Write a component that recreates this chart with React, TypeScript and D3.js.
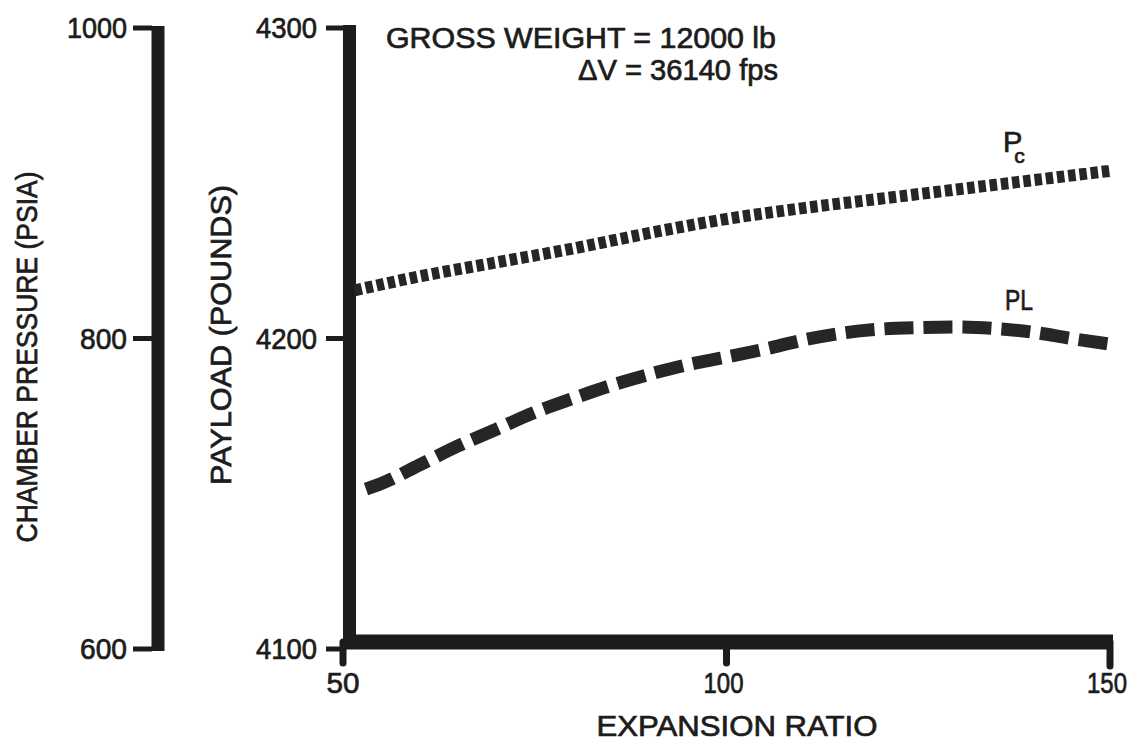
import React from "react";
import * as d3 from "d3";

// Expansion ratio sample points and the two curves read along them
const EXPANSION_PC = [51.5, 60, 70, 80, 90, 100, 110, 120, 130, 140, 150];
const CHAMBER_PRESSURE = [831, 840, 849, 858, 868, 877, 884, 890, 896, 902, 908];

const EXPANSION_PL = [53, 55, 60, 65, 70, 75, 80, 85, 90, 95, 100, 105, 110, 115, 120, 125, 130, 135, 140, 145, 150];
const PAYLOAD = [
  4151.5, 4153.3, 4159.3, 4165.4, 4170.8, 4176.2, 4180.7, 4184.9, 4188.5, 4191.6, 4194,
  4196.6, 4199.5, 4201.7, 4203, 4203.5, 4203.7, 4203.2, 4202, 4200, 4198.2,
];

const X_TICKS = [50, 100, 150];
const PC_TICKS = [600, 800, 1000];
const PL_TICKS = [4100, 4200, 4300];

const TITLE_LINE_1 = "GROSS WEIGHT = 12000 lb";
const TITLE_LINE_2 = "\u0394V = 36140 fps";

const W = 1135;
const H = 742;
const INK = "#1c1c1c";
const FONT = "'Liberation Sans', Arial, sans-serif";

export default function App() {
  const x = d3.scaleLinear().domain([50, 150]).range([343, 1110]);
  const yPl = d3.scaleLinear().domain([4100, 4300]).range([649, 28]);
  const yPc = d3.scaleLinear().domain([600, 1000]).range([649, 28]);

  const pcPoints: [number, number][] = EXPANSION_PC.map((e, i) => [e, CHAMBER_PRESSURE[i]]);
  const plPoints: [number, number][] = EXPANSION_PL.map((e, i) => [e, PAYLOAD[i]]);

  const pcLine = d3
    .line<[number, number]>()
    .x((d) => x(d[0]))
    .y((d) => yPc(d[1]))
    .curve(d3.curveMonotoneX);
  const plLine = d3
    .line<[number, number]>()
    .x((d) => x(d[0]))
    .y((d) => yPl(d[1]))
    .curve(d3.curveMonotoneX);

  const leftBarX = 158;
  const rightBarX = 349.5;
  const xAxisY = 642;

  // slightly heavier lettering than the regular face
  const tickFont = {
    fontFamily: FONT,
    fontSize: 29,
    fill: INK,
    stroke: INK,
    strokeWidth: 0.7,
  } as const;

  return (
    <svg
      width={W}
      height={H}
      viewBox={`0 0 ${W} ${H}`}
      style={{ position: "absolute", left: 0, top: 0, background: "#fff" }}
    >
      {/* chamber pressure axis */}
      <line
        x1={leftBarX}
        x2={leftBarX}
        y1={yPc(1000) - 2}
        y2={yPc(600) + 2}
        stroke={INK}
        strokeWidth={13}
      />
      {PC_TICKS.map((t) => (
        <g key={`pc${t}`}>
          <line x1={133} x2={leftBarX - 6} y1={yPc(t)} y2={yPc(t)} stroke={INK} strokeWidth={5} />
          <text
            x={127}
            y={yPc(t) + 10}
            textAnchor="end"
            textLength={t >= 1000 ? 60 : 47}
            lengthAdjust="spacingAndGlyphs"
            {...tickFont}
          >
            {t}
          </text>
        </g>
      ))}

      {/* payload axis */}
      <line
        x1={rightBarX}
        x2={rightBarX}
        y1={yPl(4300) - 3}
        y2={xAxisY}
        stroke={INK}
        strokeWidth={13}
      />
      {PL_TICKS.map((t) => (
        <g key={`pl${t}`}>
          <line x1={326} x2={rightBarX - 6} y1={yPl(t)} y2={yPl(t)} stroke={INK} strokeWidth={5} />
          <text
            x={317}
            y={yPl(t) + 10}
            textAnchor="end"
            textLength={61}
            lengthAdjust="spacingAndGlyphs"
            {...tickFont}
          >
            {t}
          </text>
        </g>
      ))}

      {/* expansion ratio axis */}
      <line
        x1={x(50)}
        x2={x(150) + 3}
        y1={xAxisY}
        y2={xAxisY}
        stroke={INK}
        strokeWidth={15}
      />
      {X_TICKS.map((t) => (
        <g key={`x${t}`}>
          <line
            x1={x(t)}
            x2={x(t)}
            y1={xAxisY}
            y2={t === 150 ? 666 : 663}
            stroke={INK}
            strokeWidth={7}
            strokeLinecap="round"
          />
          <text
            x={x(t) - (t === 50 ? 0 : 3)}
            y={693}
            textAnchor="middle"
            textLength={t === 50 ? 33 : 40}
            lengthAdjust="spacingAndGlyphs"
            {...tickFont}
          >
            {t}
          </text>
        </g>
      ))}

      {/* axis titles */}
      <text
        x={737}
        y={736}
        textAnchor="middle"
        textLength={281}
        lengthAdjust="spacingAndGlyphs"
        {...tickFont}
      >
        EXPANSION RATIO
      </text>
      <text
        transform="translate(37,357) rotate(-90)"
        textAnchor="middle"
        textLength={371}
        lengthAdjust="spacingAndGlyphs"
        {...tickFont}
      >
        CHAMBER PRESSURE (PSIA)
      </text>
      <text
        transform="translate(231,335) rotate(-90)"
        textAnchor="middle"
        textLength={300}
        lengthAdjust="spacingAndGlyphs"
        {...tickFont}
      >
        PAYLOAD (POUNDS)
      </text>

      {/* title block */}
      <text
        x={776}
        y={48}
        textAnchor="end"
        textLength={390}
        lengthAdjust="spacingAndGlyphs"
        {...tickFont}
      >
        {TITLE_LINE_1}
      </text>
      <text
        x={778}
        y={80}
        textAnchor="end"
        textLength={200}
        lengthAdjust="spacingAndGlyphs"
        {...tickFont}
      >
        {TITLE_LINE_2}
      </text>

      {/* chamber pressure curve */}
      <path
        d={pcLine(pcPoints) || ""}
        fill="none"
        stroke="#262626"
        strokeWidth={12}
        strokeDasharray="7.5 3.8"
      />
      {/* payload curve */}
      <path
        d={plLine(plPoints) || ""}
        fill="none"
        stroke="#262626"
        strokeWidth={13}
        strokeDasharray="29 10"
      />

      {/* curve labels */}
      <text x={1003} y={152} {...tickFont}>
        P
        <tspan dx={-8} dy={11} fontSize={21}>
          c
        </tspan>
      </text>
      <text x={1005} y={310} textLength={28} lengthAdjust="spacingAndGlyphs" {...tickFont}>
        PL
      </text>
    </svg>
  );
}
